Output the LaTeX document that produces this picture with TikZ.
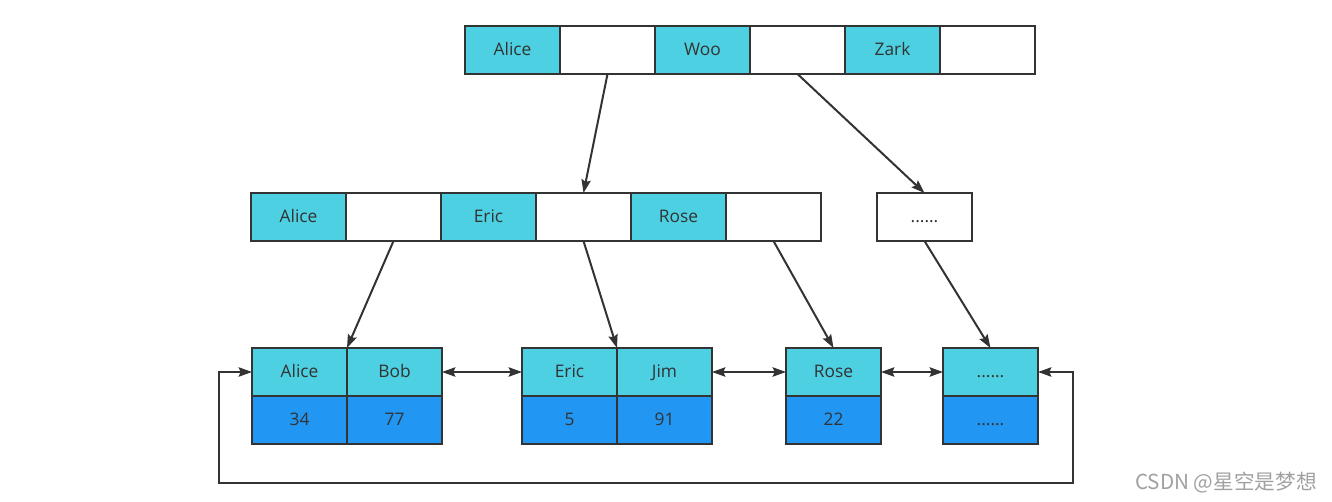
\documentclass[tikz,border=0pt]{standalone}
\usepackage{fontspec}
\setmainfont{Open Sans}
\newfontfamily\cjkfont{Noto Sans CJK SC}
\usepackage{tikz}
\usetikzlibrary{arrows.meta, positioning}
\definecolor{cle}{HTML}{4DD0E1}
\definecolor{valeur}{HTML}{2196F3}
\definecolor{trait}{HTML}{333333}
\definecolor{filigrane}{HTML}{A0A0A0}
\tikzset{
  cellule/.style={rectangle, draw=trait, line width=1.6pt, fill=white,
    text=trait, font=\fontsize{13}{15}\selectfont, minimum width=71.25pt,
    minimum height=36pt, inner sep=0pt, outer sep=0pt,
    text height=1.55ex, text depth=0ex},
  cellcle/.style={cellule, fill=cle},
  cellval/.style={cellule, fill=valeur},
  fleche/.style={-{Stealth[length=10pt, width=7pt, inset=1.5pt]}, line width=1.5pt, color=trait},
  lien/.style={fleche, {Stealth[length=10pt, width=7pt, inset=1.5pt]}-{Stealth[length=10pt, width=7pt, inset=1.5pt]}},
  marque/.style={font=\cjkfont\fontsize{15.5}{18}\selectfont, color=filigrane}
}
\begin{document}
\begin{tikzpicture}[x=0.75pt, y=-0.75pt]
    \useasboundingbox (0,0) rectangle (1332,502);

    % racine
    \node[cellcle, anchor=north west] (r1) at (465,26) {Alice};
    \node[cellule, right=0pt of r1] (r2) {};
    \node[cellcle, right=0pt of r2] (r3) {Woo};
    \node[cellule, right=0pt of r3] (r4) {};
    \node[cellcle, right=0pt of r4] (r5) {Zark};
    \node[cellule, right=0pt of r5] (r6) {};

    % niveau intermediaire
    \node[cellcle, anchor=north west] (m1) at (251,193) {Alice};
    \node[cellule, right=0pt of m1] (m2) {};
    \node[cellcle, right=0pt of m2] (m3) {Eric};
    \node[cellule, right=0pt of m3] (m4) {};
    \node[cellcle, right=0pt of m4] (m5) {Rose};
    \node[cellule, right=0pt of m5] (m6) {};
    \node[cellule, anchor=north west] (mx) at (877,193) {......};

    % feuilles
    \node[cellcle, anchor=north west] (k1) at (252,348) {Alice};
    \node[cellcle, right=0pt of k1] (k2) {Bob};
    \node[cellval, below=0pt of k1] (v1) {34};
    \node[cellval, below=0pt of k2] (v2) {77};
    \node[cellcle, anchor=north west] (k3) at (522,348) {Eric};
    \node[cellcle, right=0pt of k3] (k4) {Jim};
    \node[cellval, below=0pt of k3] (v3) {5};
    \node[cellval, below=0pt of k4] (v4) {91};
    \node[cellcle, anchor=north west] (k5) at (786,348) {Rose};
    \node[cellval, below=0pt of k5] (v5) {22};
    \node[cellcle, anchor=north west] (k6) at (943,348) {......};
    \node[cellval, below=0pt of k6] (v6) {......};

    % pointeurs
    \draw[fleche] (r2.south) -- (m4.north);
    \draw[fleche] (r4.south) -- (mx.north);
    \draw[fleche] (m2.south) -- (k1.north east);
    \draw[fleche] (m4.south) -- (k3.north east);
    \draw[fleche] (m6.south) -- (k5.north);
    \draw[fleche] (mx.south) -- (k6.north);

    % chainage des feuilles
    \draw[lien] (k2.east) -- (k3.west);
    \draw[lien] (k4.east) -- (k5.west);
    \draw[lien] (k5.east) -- (k6.west);
    \coordinate (coinG) at (219,483);
    \coordinate (coinD) at (1073,483);
    \draw[lien] (k1.west) -| (coinG) -- (coinD) |- (k6.east);

    \node[marque] (wm) at (1226,483) {CSDN @星空是梦想};
\end{tikzpicture}
\end{document}
